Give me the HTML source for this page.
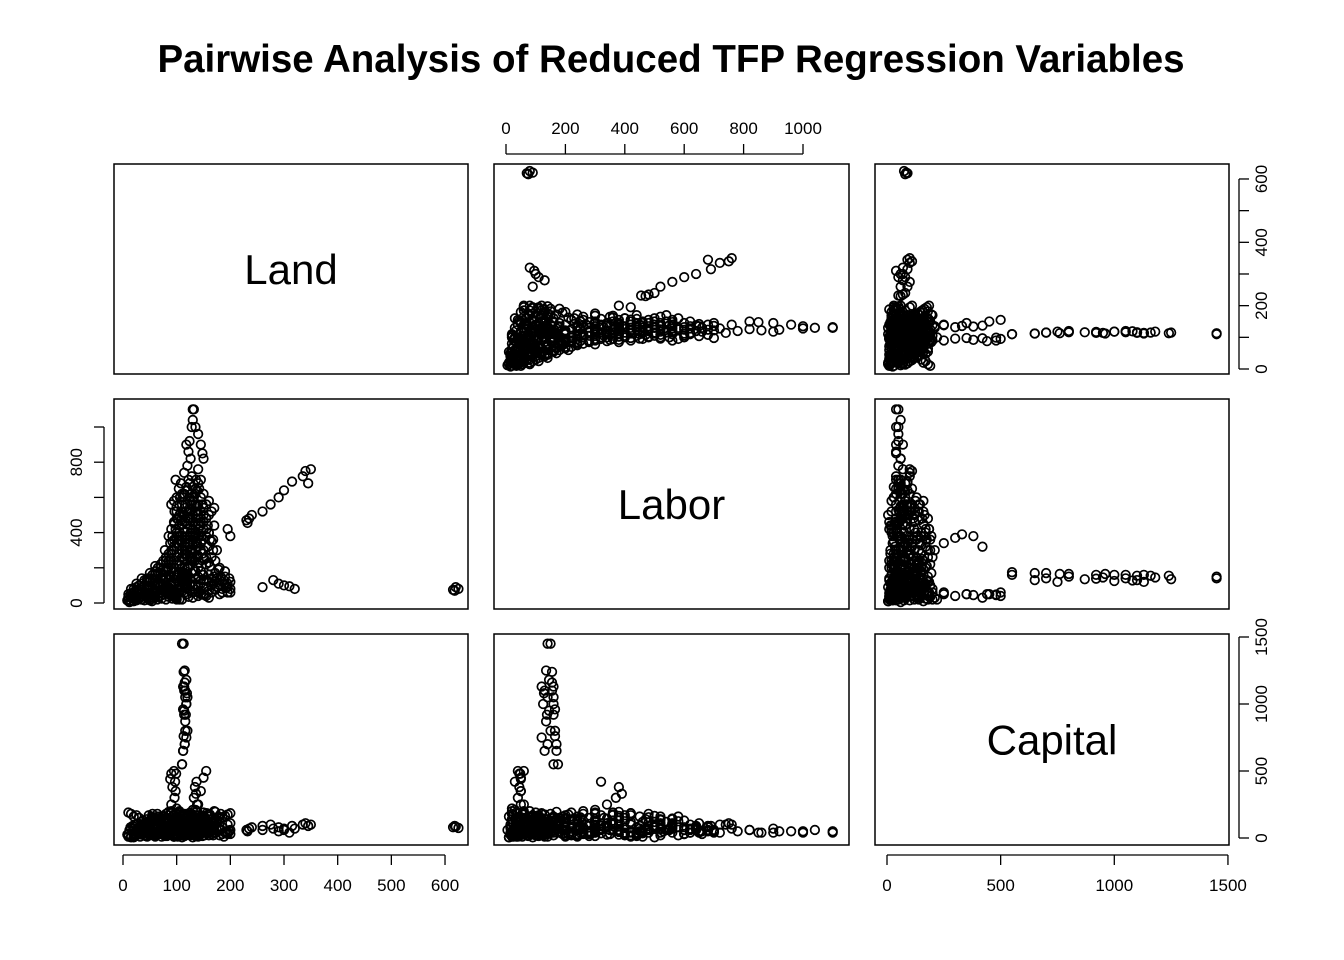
<!DOCTYPE html>
<html><head><meta charset="utf-8"><style>
body{margin:0;background:#fff}
svg{display:block;font-family:"Liberation Sans",Arial,sans-serif}
</style></head><body>
<svg id="c" width="1344" height="960" xmlns="http://www.w3.org/2000/svg">
<text x="671" y="72" text-anchor="middle" font-size="38.5" font-weight="bold">Pairwise Analysis of Reduced TFP Regression Variables</text>
</svg>
<script>
// [land, labor, capital]
const coreCluster = [[10,20,10],[15,30,15],[20,10,5],[25,40,20],[30,25,30],[35,60,25],[40,15,40],[45,80,35],[50,50,60],[55,30,80],[60,90,45],[65,70,100],[70,40,120],[75,110,60],[80,60,150],[85,130,90],[90,100,40],[95,150,70],[100,80,130],[105,170,110],[110,120,90],[115,200,60],[120,90,170],[125,140,40],[130,60,100],[135,180,130],[140,100,70],[145,70,150],[150,130,50],[155,90,110],[160,160,80],[165,60,30],[170,120,90],[180,100,60],[190,150,40],[200,80,30],[30,100,50],[50,120,20],[60,140,70],[70,170,90],[80,190,30],[90,60,200],[100,40,180],[110,20,140],[20,60,40],[40,80,70],[60,30,20],[80,20,50],[100,30,30],[120,50,60],[140,40,20],[160,30,50],[180,50,70],[200,60,110],[10,50,30],[25,90,60],[45,130,100],[65,110,130],[85,90,170],[105,100,190],[125,110,150],[145,130,100],[165,140,60],[185,120,30],[115,160,20],[95,120,140],[75,140,120],[55,160,150],[35,140,90],[15,80,70],[12,5,60],[18,45,90],[130,95,80],[135,75,40],[112,130,110],[118,85,55],[98,65,95],[88,45,75],[78,85,25],[68,55,45],[22,20,20],[32,35,10],[42,45,15],[52,20,25],[62,65,35],[72,25,10],[82,75,15],[92,25,20],[102,55,10],[108,75,20],[122,35,25],[142,65,30],[152,45,20],[172,75,40],[192,90,50],[28,70,110],[48,100,120],[58,40,140],[88,150,60],[108,140,30],[128,170,70],[148,160,40],[168,110,20],[48,25,170],[68,90,160],[38,50,130],[18,35,50],[8,15,25]];
const denseBlob = [[40,100,20],[45,120,40],[50,140,60],[55,160,80],[60,180,100],[65,200,120],[70,220,140],[75,240,160],[80,260,180],[85,280,30],[90,300,50],[95,320,70],[100,340,90],[105,360,110],[110,380,130],[115,400,150],[120,420,170],[125,440,20],[130,460,40],[135,480,60],[140,500,80],[145,520,100],[150,540,120],[155,560,140],[160,580,160],[100,600,60],[110,620,40],[120,640,80],[130,660,30],[140,680,50],[50,60,30],[55,80,50],[60,100,70],[65,120,90],[70,140,110],[75,160,130],[80,180,150],[85,200,170],[90,220,190],[95,240,10],[100,260,30],[105,280,50],[110,300,70],[115,320,90],[120,340,110],[125,360,130],[130,380,150],[135,400,170],[140,420,10],[145,440,30],[150,460,50],[155,480,70],[160,500,90],[165,520,110],[170,540,60],[90,560,40],[95,580,20],[105,500,80],[115,460,120],[125,520,140],[135,560,100],[145,600,60],[150,620,40],[60,40,10],[70,60,30],[80,80,50],[90,120,70],[100,160,90],[110,200,110],[120,240,130],[130,280,150],[140,320,170],[150,360,190],[160,400,20],[170,440,40],[175,300,60],[165,260,80],[155,220,100],[145,180,120],[135,140,140],[125,100,160],[115,60,180],[105,20,200],[95,40,100],[85,60,120],[75,80,140],[65,100,160],[55,120,180],[45,140,10],[35,40,30],[25,60,50],[30,80,70],[40,60,90],[50,100,110],[60,160,130],[70,200,150],[80,240,20],[90,280,40],[100,320,60],[110,340,80],[120,300,100],[130,240,120],[140,200,140],[150,160,160],[160,120,180],[170,80,200],[180,200,20],[190,180,40],[175,140,60],[185,60,80],[195,110,100],[105,440,40],[115,540,60],[125,580,80],[135,620,100],[98,420,120],[108,470,140],[118,520,160],[128,300,180],[138,260,200],[148,280,15],[158,320,35],[168,360,55],[112,250,75],[122,200,95],[132,180,115],[142,230,135],[152,250,155],[162,210,175],[172,170,195],[88,340,25],[92,380,45],[96,520,65],[102,380,85],[116,280,105],[126,400,125],[136,340,145],[146,380,165],[156,420,185],[78,300,15],[82,200,35],[86,160,55],[20,30,70],[14,40,80],[24,15,100],[34,20,120],[44,30,140],[54,10,160],[64,20,180]];
const denseFill = [[15,10,5],[20,25,15],[25,15,25],[30,35,35],[35,20,45],[40,45,55],[45,30,65],[50,15,75],[55,45,85],[60,60,95],[65,35,105],[70,75,115],[75,50,125],[80,95,135],[85,35,145],[90,80,155],[95,110,165],[100,130,175],[105,60,185],[110,90,5],[115,110,15],[120,130,25],[125,70,35],[130,120,45],[135,100,55],[140,150,65],[145,110,75],[150,90,85],[155,130,95],[160,70,105],[165,100,115],[170,150,125],[175,90,135],[180,130,145],[185,80,155],[190,110,165],[195,60,175],[200,120,185],[95,200,10],[100,220,20],[105,240,30],[110,260,40],[115,280,50],[120,200,60],[125,220,70],[130,330,80],[135,300,90],[140,270,100],[145,340,110],[150,300,120],[155,260,130],[160,230,140],[105,330,150],[110,450,160],[115,360,170],[120,480,180],[125,300,190],[130,500,5],[135,440,15],[140,380,25],[145,460,35],[150,420,45],[155,380,55],[100,480,65],[105,400,75],[110,560,85],[115,500,95],[120,560,105],[125,480,115],[130,580,125],[135,520,135],[140,560,145],[145,480,155],[150,500,165],[95,360,175],[90,420,185],[85,380,195],[95,460,10],[100,520,20],[60,210,30],[65,170,40],[70,110,50],[75,190,60],[80,140,70],[85,240,80],[90,180,90],[35,110,100],[40,130,110],[45,90,120],[50,170,130],[55,100,140],[30,50,150],[20,80,160],[25,110,170],[15,55,180],[10,35,190],[112,600,30],[118,660,50],[128,620,70],[138,640,90],[148,560,110],[122,700,40],[108,680,60],[158,440,80],[162,360,100],[168,300,120],[172,240,140],[178,190,160],[182,150,180],[188,130,10],[195,90,30],[198,140,50]];
const laborSpike = [[105,220,50],[110,260,80],[115,300,40],[120,340,90],[125,380,60],[100,400,30],[130,420,100],[118,450,70],[122,480,40],[112,500,120],[126,530,50],[116,560,90],[132,600,30],[120,640,60],[124,680,80],[128,720,40],[114,740,100],[120,780,50],[126,820,60],[122,860,40],[118,900,70],[124,920,50],[128,1000,40],[130,1040,60],[132,1100,50],[135,650,110],[138,520,70],[140,450,90],[95,300,140],[108,350,30],[136,700,50],[124,600,130],[112,420,20],[120,380,150],[116,320,110],[128,560,70],[88,250,40],[92,350,60],[96,450,50],[100,550,70],[104,650,40],[98,700,60],[106,600,30],[90,200,80],[102,480,90],[110,380,100],[114,620,60],[108,520,40],[142,380,50],[145,300,40],[150,250,60],[160,400,40],[165,350,30],[85,220,30],[125,250,70],[118,280,30],[134,240,60]];
const diagonalLine = [[230,470,60],[235,480,70],[240,500,80],[260,520,90],[275,560,100],[290,600,80],[300,640,70],[315,690,90],[335,720,100],[340,750,110],[345,680,90],[350,760,100],[232,455,50],[195,420,40],[200,380,60]];
const landOutliers = [[260,90,60],[280,130,70],[290,110,50],[300,100,60],[310,95,40],[320,80,70],[615,75,80],[620,90,85],[625,80,75],[618,70,90]];
const capitalSpike = [[112,130,650],[115,140,700],[118,120,750],[120,150,800],[116,135,870],[114,145,950],[118,125,1000],[120,140,1050],[116,130,1100],[114,120,1130],[118,145,1180],[115,135,1250],[113,150,1450],[110,160,550],[119,128,1080],[117,138,920]];
const capitalMid = [[96,40,300],[98,50,350],[97,30,420],[99,45,480],[95,60,500],[135,300,210],[138,340,250],[132,370,300],[136,390,330],[134,380,380],[137,320,420],[140,60,250],[145,50,350],[150,50,450],[155,40,500],[90,50,250],[92,45,380],[88,50,440],[90,48,480],[100,20,220],[130,30,210]];
const laborTail = [[130,250,80],[135,350,60],[140,450,70],[138,550,60],[142,650,50],[145,700,60],[140,760,70],[150,820,60],[148,850,40],[145,900,40],[140,960,50],[135,1000,50],[130,1100,40]];
const capitalTail = [[110,175,550],[112,170,650],[115,170,700],[113,165,760],[116,165,800],[114,160,920],[112,165,960],[118,160,1000],[116,160,1050],[114,155,1100],[112,160,1130],[115,155,1160],[113,155,1240],[110,140,1450]];
const varNames = ["Land","Labor","Capital"];
const ticksLand = [0,100,200,300,400,500,600];
const ticksLabor = [0,200,400,600,800,1000];
const ticksCapital = [0,500,1000,1500];

const svg = document.getElementById('c');
const NS = 'http://www.w3.org/2000/svg';
const colX = [[114,468],[494,849],[875,1229]];
const rowY = [[164,374],[399,609],[634,845]];
const sx = [v=>123+v*0.5367, v=>506+v*0.297, v=>887+v*0.2273];
const sy = [v=>369-v*0.3167, v=>603-v*0.176, v=>838-v*0.134];
function mk(tag, attrs){const e=document.createElementNS(NS,tag);for(const k in attrs)e.setAttribute(k,attrs[k]);svg.appendChild(e);return e;}
const all = [].concat(coreCluster,denseBlob,denseFill,laborSpike,diagonalLine,landOutliers,capitalSpike,capitalMid,laborTail,capitalTail);
for(let r=0;r<3;r++)for(let c=0;c<3;c++){
  const [x0,x1]=colX[c],[y0,y1]=rowY[r];
  const b=mk('rect',{x:x0,y:y0,width:x1-x0,height:y1-y0,fill:'none',stroke:'#000','stroke-width':1.5});
  
  
  if(r===c){
    const t=mk('text',{x:(x0+x1)/2,y:(y0+y1)/2+15,'text-anchor':'middle','font-size':42});
    t.textContent=varNames[r];
    
    
    continue;
  }
  const g=mk('g',{fill:'none',stroke:'#000','stroke-width':1.7});
  
  
  for(const p of all){
    const ci=document.createElementNS(NS,'circle');
    ci.setAttribute('cx',sx[c](p[c]));ci.setAttribute('cy',sy[r](p[r]));ci.setAttribute('r',4.3);
    
    
    g.appendChild(ci);
  }
}
function axis(side, idx, ticks, labels, labelEvery){
  const g=mk('g',{stroke:'#000','stroke-width':1.3});
  
  
  const horiz = side==='top'||side==='bottom';
  const f = horiz?sx[idx]:sy[idx];
  const a=f(ticks[0]), b=f(ticks[ticks.length-1]);
  let base, dir;
  if(side==='top'){base=rowY[0][0]-10;dir=-1;}
  if(side==='bottom'){base=rowY[2][1]+10;dir=1;}
  if(side==='left'){base=colX[0][0]-10;dir=-1;}
  if(side==='right'){base=colX[2][1]+10;dir=1;}
  const line=document.createElementNS(NS,'line');
  if(horiz){line.setAttribute('x1',a);line.setAttribute('x2',b);line.setAttribute('y1',base);line.setAttribute('y2',base);}
  else{line.setAttribute('y1',a);line.setAttribute('y2',b);line.setAttribute('x1',base);line.setAttribute('x2',base);}
  g.appendChild(line);
  ticks.forEach((v,i)=>{
    const p=f(v);const l=document.createElementNS(NS,'line');
    if(horiz){l.setAttribute('x1',p);l.setAttribute('x2',p);l.setAttribute('y1',base);l.setAttribute('y2',base+dir*10);}
    else{l.setAttribute('y1',p);l.setAttribute('y2',p);l.setAttribute('x1',base);l.setAttribute('x2',base+dir*10);}
    g.appendChild(l);
    if(i%labelEvery===0){
      const t=document.createElementNS(NS,'text');
      t.setAttribute('font-size',17);t.setAttribute('text-anchor','middle');t.setAttribute('stroke','none');t.setAttribute('fill','#000');
      if(horiz){t.setAttribute('x',p);t.setAttribute('y',side==='top'?base-20:base+36);}
      else{const tx=side==='left'?base-22:base+28;t.setAttribute('transform','translate('+tx+','+p+') rotate(-90)');t.setAttribute('x',0);t.setAttribute('y',0);}
      t.textContent=labels[i];
      
      
      g.appendChild(t);
    }
  });
}
axis('top',1,ticksLabor,ticksLabor,1);
axis('right',0,ticksLand,ticksLand,2);
axis('left',1,ticksLabor,ticksLabor,2);
axis('bottom',0,ticksLand,ticksLand,1);
axis('right',2,ticksCapital,ticksCapital,1);
axis('bottom',2,ticksCapital,ticksCapital,1);
</script>
</body></html>
